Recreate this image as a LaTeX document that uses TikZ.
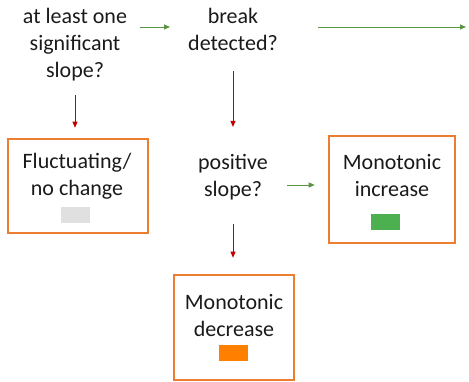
\documentclass[tikz,border=0pt]{standalone}
\usepackage{fontspec}
\setmainfont{Carlito}
\usetikzlibrary{arrows.meta}

\definecolor{boxorange}{HTML}{ED7D31}
\definecolor{yesgreen}{HTML}{5A9440}
\definecolor{nored}{HTML}{C00000}
\definecolor{swgrey}{HTML}{E0E0E0}
\definecolor{swgreen}{HTML}{4CAF50}
\definecolor{sworange}{HTML}{FF8000}
\definecolor{ink}{HTML}{1A1A1A}

\tikzset{
  question/.style={align=center, text=ink, inner sep=3pt, font=\fontsize{22}{27}\selectfont},
  outcome/.style={draw=boxorange, line width=2.6pt},
  swatch/.style={minimum width=29pt, minimum height=16pt, inner sep=0pt},
  yes/.style={draw=yesgreen, line width=0.9pt, -{Triangle[length=6pt,width=5pt]}},
  no/.style={draw=nored, line width=0.9pt, -{Triangle[length=6pt,width=5pt]}}
}

\begin{document}
\begin{tikzpicture}[x=1pt, y=-1pt]
  \useasboundingbox (0,0) rectangle (469,382);

  \node[question, anchor=north] (slope) at (75,5) {at least one\\significant\\slope?};
  \node[question, anchor=north] (brk) at (233,5) {break\\detected?};
  \node[question] (pos) at (233,177) {positive\\slope?};
  \coordinate (out) at (466,27);

  \node[outcome, minimum width=140pt, minimum height=94pt] (flu) at (78,186) {};
  \node[outcome, minimum width=126pt, minimum height=107pt] (inc) at (392,189.5) {};
  \node[outcome, minimum width=120pt, minimum height=105pt] (dec) at (234,327.5) {};

  \node[question] (flutxt) at (77,176) {Fluctuating/\\no change};
  \node[question] (inctxt) at (392,176) {Monotonic\\increase};
  \node[question] (dectxt) at (234,316) {Monotonic\\decrease};

  \node[swatch, fill=swgrey] (flusw) at (75.5,215.5) {};
  \node[swatch, fill=swgreen] (incsw) at (385.5,222) {};
  \node[swatch, fill=sworange] (decsw) at (233.5,353.5) {};

  \draw[yes, shorten <=10pt, shorten >=15pt] ([yshift=-22pt]slope.north east) -- ([yshift=-22pt]brk.north west);
  \draw[yes, shorten <=37pt] ([yshift=-22pt]brk.north east) -- (out);
  \draw[yes, shorten <=16pt, shorten >=13pt] ([yshift=-8pt]pos.east) -- ([yshift=-8pt]pos.east -| inc.west);

  \draw[no, shorten <=11pt, shorten >=10pt] (slope.south) -- (slope.south |- flu.north);
  \draw[no, shorten <=17pt, shorten >=24pt] (brk.south) -- (pos.north);
  \draw[no, shorten <=21pt, shorten >=16pt] (pos.south) -- (pos.south |- dec.north);
\end{tikzpicture}
\end{document}
